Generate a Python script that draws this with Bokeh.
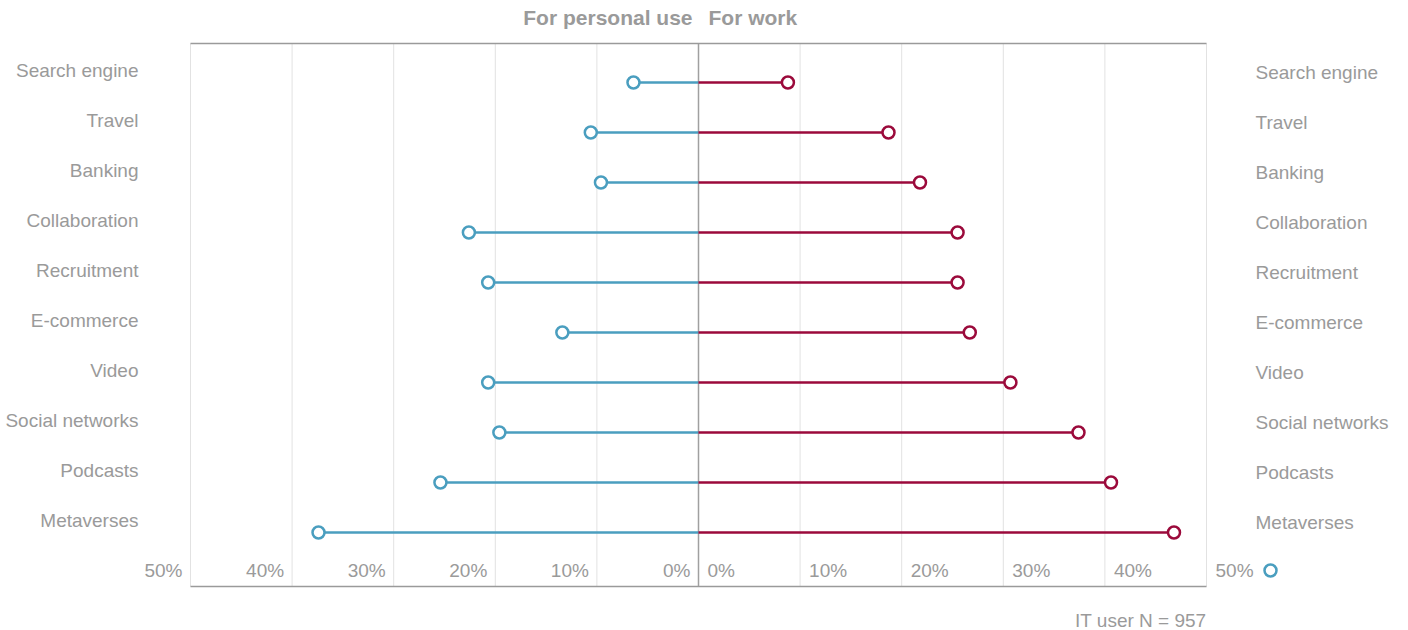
from bokeh.plotting import figure
from bokeh.models import Range1d, ColumnDataSource, Legend, LegendItem
from bokeh.core.properties import value
from bokeh.embed import file_html
from bokeh.resources import INLINE

categories = ["Search engine", "Travel", "Banking", "Collaboration", "Recruitment",
              "E-commerce", "Video", "Social networks", "Podcasts", "Metaverses"]
personal = [6.4, 10.6, 9.6, 22.6, 20.7, 13.4, 20.7, 19.6, 25.4, 37.4]
work = [8.8, 18.7, 21.8, 25.5, 25.5, 26.7, 30.7, 37.4, 40.6, 46.8]
tick_values = [0, 10, 20, 30, 40, 50]
tick_labels = ["0%", "10%", "20%", "30%", "40%", "50%"]
header_left = "For personal use"
header_right = "For work"
note = "IT user N = 957"

TEAL = "#4a9ebf"
CRIMSON = "#9b0a3b"
GREY = "#9a9a9a"
FONT = value("Liberation Sans")
FS = value("19px")
FS_HEAD = value("21px")

# page layout (pixels)
W, H = 1408, 630
PL, PR, PT, PB = 190, 1206, 43, 586      # plot box
ROW0, ROW_STEP = 82, 50                   # first row centre, row spacing
XMAX = 50
sx = (PR - PL) / (2 * XMAX)               # px per percent
x_lo = -XMAX - PL / sx
x_hi = XMAX + (W - PR) / sx
y_lo = -ROW0 / ROW_STEP
y_hi = (H - ROW0) / ROW_STEP

def py(pix):
    return (pix - ROW0) / ROW_STEP

def px(pix):
    return -XMAX + (pix - PL) / sx

p = figure(width=W, height=H, x_range=Range1d(x_lo, x_hi), y_range=Range1d(y_hi, y_lo),
           x_axis_type=None, y_axis_type=None, output_backend="svg", toolbar_location=None,
           min_border=0, outline_line_color=None)
p.grid.visible = False
p.background_fill_color = "white"
p.border_fill_color = "white"

# grid lines
grid_x = [-50, -40, -30, -20, -10, 10, 20, 30, 40, 50]
p.segment(x0=grid_x, y0=[py(PT)] * len(grid_x), x1=grid_x, y1=[py(PB)] * len(grid_x),
          line_color="#e2e2e2", line_width=1)
# centre line
p.segment(x0=[0], y0=[py(PT)], x1=[0], y1=[py(PB)], line_color="#a0a0a0", line_width=1.5)
# top / bottom rules
p.segment(x0=[-XMAX, -XMAX], y0=[py(PT), py(PB)], x1=[XMAX, XMAX], y1=[py(PT), py(PB)],
          line_color="#9a9a9a", line_width=1.5)

idx = list(range(len(categories)))
neg_personal = [-v for v in personal]
src = ColumnDataSource(dict(y=idx, personal=neg_personal, work=work, zero=[0] * len(idx),
                            cat=categories,
                            ylab_l=[i - 12 / ROW_STEP for i in idx],
                            ylab_r=[i - 10 / ROW_STEP for i in idx]))

p.segment(x0="zero", y0="y", x1="personal", y1="y", source=src, line_color=TEAL, line_width=2.5)
p.segment(x0="zero", y0="y", x1="work", y1="y", source=src, line_color=CRIMSON, line_width=2.5)
teal_pts = p.scatter(x="personal", y="y", source=src, size=12, fill_color="white",
                     line_color=TEAL, line_width=2.5)
p.scatter(x="work", y="y", source=src, size=12, fill_color="white",
          line_color=CRIMSON, line_width=2.5)

# category labels
p.text(x=px(138), y="ylab_l", text="cat", source=src, text_align="right", text_baseline="middle",
       text_color=GREY, text_font=FONT, text_font_size=FS)
p.text(x=px(1255), y="ylab_r", text="cat", source=src, text_align="left", text_baseline="middle",
       text_color=GREY, text_font=FONT, text_font_size=FS)

# tick labels
tick_y = py(570)
tsrc_l = ColumnDataSource(dict(x=[-v for v in tick_values], y=[tick_y] * len(tick_values), t=tick_labels))
tsrc_r = ColumnDataSource(dict(x=tick_values, y=[tick_y] * len(tick_values), t=tick_labels))
p.text(x="x", y="y", text="t", source=tsrc_l, x_offset=-8, text_align="right", text_baseline="middle",
       text_color=GREY, text_font=FONT, text_font_size=FS)
p.text(x="x", y="y", text="t", source=tsrc_r, x_offset=9, text_align="left", text_baseline="middle",
       text_color=GREY, text_font=FONT, text_font_size=FS)

# headers
hy = py(17)
p.text(x=[0], y=[hy], text=[header_left], x_offset=-6, text_align="right", text_baseline="middle",
       text_color=GREY, text_font=FONT, text_font_size=FS_HEAD, text_font_style="bold")
p.text(x=[0], y=[hy], text=[header_right], x_offset=10, text_align="left", text_baseline="middle",
       text_color=GREY, text_font=FONT, text_font_size=FS_HEAD, text_font_style="bold")

# note
p.text(x=[XMAX], y=[py(620)], text=[note], text_align="right", text_baseline="middle",
       text_color=GREY, text_font=FONT, text_font_size=FS)

# stray legend marker
legend = Legend(items=[LegendItem(label=" ", renderers=[teal_pts])], location=(1255, 45),
                glyph_width=30, glyph_height=30, padding=0, margin=0, spacing=0,
                label_text_font_size="1px", label_standoff=0, label_width=0,
                border_line_alpha=0, background_fill_alpha=0)
p.add_layout(legend)

open("out.html", "w").write(file_html(p, INLINE))
